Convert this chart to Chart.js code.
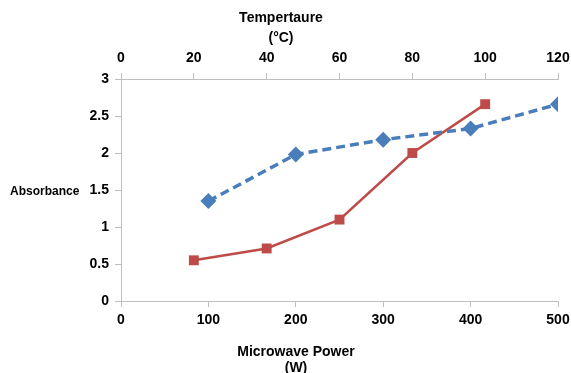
<!DOCTYPE html>
<html>
<head>
<meta charset="utf-8">
<script src="https://cdn.jsdelivr.net/npm/chart.js@4"></script>
<style>
html,body{margin:0;padding:0;background:#fff;}
#wrap{width:571px;height:373px;position:relative;}
</style>
</head>
<body>
<div id="wrap"><canvas id="c" width="571" height="373"></canvas></div>
<script>
// Microwave power series (bottom axis)
const powerW = [100, 200, 300, 400, 500];
const absorbancePower = [1.35, 1.98, 2.18, 2.33, 2.66];
// Temperature series (top axis)
const tempC = [20, 40, 60, 80, 100];
const absorbanceTemp = [0.55, 0.71, 1.1, 2.0, 2.66];
// Axis labels
const yTitle = 'Absorbance';
const xTitleLines = ['Microwave Power', '(W)'];
const x2TitleLines = ['Tempertaure', '(\u00B0C)'];

const FONT = "'Liberation Sans', Arial, sans-serif";
const axisGrey = '#bfbfbf';

const titlePlugin = {
  id: 'titles',
  afterDraw(chart) {
    const ctx = chart.ctx;
    ctx.save();
    ctx.fillStyle = '#000';
    ctx.textBaseline = 'middle';
    ctx.font = 'bold 14px ' + FONT;
    ctx.textAlign = 'center';
    ctx.fillText(x2TitleLines[0], 281, 18);
    ctx.fillText(x2TitleLines[1], 281, 38);
    ctx.fillText(xTitleLines[0], 296, 352);
    ctx.fillText(xTitleLines[1], 296, 368);
    ctx.font = 'bold 12px ' + FONT;
    ctx.textAlign = 'left';
    ctx.fillText(yTitle, 10, 192);
    ctx.restore();
  }
};

new Chart(document.getElementById('c'), {
  type: 'scatter',
  data: {
    datasets: [
      {
        label: 'Power',
        data: powerW.map((x, i) => ({x: x, y: absorbancePower[i]})),
        xAxisID: 'x',
        showLine: true,
        borderColor: '#4a7ebb',
        backgroundColor: '#4a7ebb',
        borderWidth: 3.5,
        borderDash: [9, 5],
        pointStyle: 'rectRot',
        pointRadius: 8,
        pointBorderWidth: 0,
        pointHoverRadius: 8
      },
      {
        label: 'Temperature',
        data: tempC.map((x, i) => ({x: x, y: absorbanceTemp[i]})),
        xAxisID: 'x2',
        showLine: true,
        borderColor: '#be4b48',
        backgroundColor: '#be4b48',
        borderWidth: 2.5,
        pointStyle: 'rect',
        pointRadius: 7,
        pointBorderWidth: 0,
        pointHoverRadius: 7
      }
    ]
  },
  options: {
    responsive: false,
    animation: false,
    layout: {padding: {left: 0, right: 13, top: 0, bottom: 0}},
    plugins: {legend: {display: false}, tooltip: {enabled: false}},
    scales: {
      x: {
        type: 'linear', position: 'bottom', min: 0, max: 500,
        ticks: {stepSize: 100, color: '#000', font: {family: FONT, size: 14, weight: 'bold'}, padding: 5, maxRotation: 0},
        grid: {drawOnChartArea: false, color: axisGrey, tickLength: 6},
        border: {display: true, color: axisGrey, width: 1},
        afterFit(s) { s.height = 72; s.paddingRight = 0; }
      },
      x2: {
        type: 'linear', position: 'top', min: 0, max: 120,
        ticks: {stepSize: 20, color: '#000', font: {family: FONT, size: 14, weight: 'bold'}, padding: 6, maxRotation: 0},
        grid: {drawOnChartArea: false, color: axisGrey, tickLength: 6},
        border: {display: true, color: axisGrey, width: 1},
        afterFit(s) { s.height = 79; s.paddingRight = 0; }
      },
      y: {
        type: 'linear', position: 'left', min: 0, max: 3,
        ticks: {stepSize: 0.5, color: '#000', font: {family: FONT, size: 14, weight: 'bold'}, padding: 6,
          callback: v => String(v)},
        grid: {drawOnChartArea: false, color: axisGrey, tickLength: 6},
        border: {display: true, color: axisGrey, width: 1},
        afterFit(s) { s.width = 121; }
      }
    }
  },
  plugins: [titlePlugin]
});
</script>
</body>
</html>
